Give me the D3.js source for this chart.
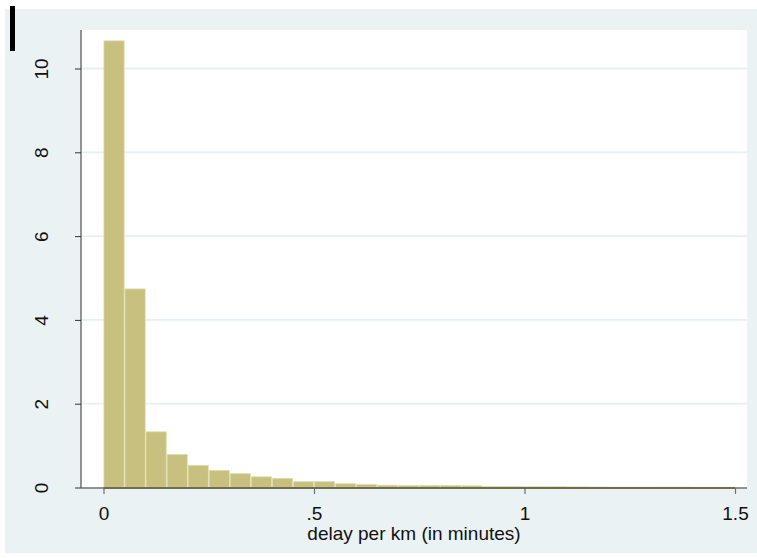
<!DOCTYPE html>
<html>
<head>
<meta charset="utf-8">
<script src="https://cdn.jsdelivr.net/npm/d3@7"></script>
<style>
  body { margin: 0; background: #fff; }
  text { font-family: "Liberation Sans", Arial, sans-serif; fill: #111; }
</style>
</head>
<body>
<div id="chart-area"></div>
<script>
// histogram bins: width .05 starting at 0, density values
const binStarts = d3.range(30).map(i => +(i * 0.05).toFixed(2));
const density = [10.66, 4.74, 1.33, 0.79, 0.53, 0.41, 0.33, 0.255, 0.22, 0.14,
                 0.14, 0.09, 0.075, 0.055, 0.05, 0.05, 0.05, 0.04, 0.025, 0.025,
                 0.02, 0.02, 0.015, 0.012, 0.01, 0.01, 0.008, 0.008, 0.006, 0.006];
const binWidth = 0.05;
const yTicks = [0, 2, 4, 6, 8, 10];
const xTicks = [0, 0.5, 1, 1.5];
const xTickLabels = ["0", ".5", "1", "1.5"];
const xTitle = "delay per km (in minutes)";

let width = 757, height = 558;
let plot = { left: 81, right: 747, top: 30, bottom: 488 };
let fontSize = 19;

let svg = d3.select("#chart-area")
  .append("svg")
    .attr("width", width)
    .attr("height", height)

// outer background
svg.append("rect")
  .attr("x", 5).attr("y", 9)
  .attr("width", 752).attr("height", 544)
  .attr("fill", "#eaf2f3")

// stray black mark top-left
svg.append("rect")
  .attr("x", 10).attr("y", 6)
  .attr("width", 5).attr("height", 45)
  .attr("fill", "#000")

// plot region
svg.append("rect")
  .attr("x", plot.left).attr("y", plot.top)
  .attr("width", plot.right - plot.left).attr("height", plot.bottom - plot.top)
  .attr("fill", "#fff")

let x = d3.scaleLinear()
  .domain([0, 1.5])
  .range([103.5, 735])

let y = d3.scaleLinear()
  .domain([0, 10])
  .range([487.5, 68.5])

// gridlines
svg.append("g")
  .selectAll("line")
  .data(yTicks.filter(t => t > 0))
  .enter()
  .append("line")
    .attr("x1", plot.left).attr("x2", plot.right)
    .attr("y1", d => y(d)).attr("y2", d => y(d))
    .attr("stroke", "#e6eff1")
    .attr("stroke-width", 1.8)

// bars
svg.append("g")
  .selectAll("rect")
  .data(binStarts)
  .enter()
  .append("rect")
    .attr("x", (d) => x(d) + 0.4)
    .attr("y", (d, i) => y(density[i]))
    .attr("width", x(binWidth) - x(0) - 0.8)
    .attr("height", (d, i) => y(0) - y(density[i]))
    .attr("fill", "#c8c07f")
    .attr("stroke", "#e2ddb0")
    .attr("stroke-width", 0.8)

// y axis
let yAxis = d3.axisLeft(y)
  .tickValues(yTicks)
  .tickSize(6)
  .tickFormat(d3.format("d"))
let yg = svg.append("g")
  .attr("transform", `translate(${plot.left}, 0)`)
  .call(yAxis)
yg.select(".domain")
  .attr("d", `M0,${plot.top}V${plot.bottom}`)
  .attr("stroke", "#707070")
  .attr("stroke-width", 1.5)
yg.selectAll(".tick line").attr("stroke", "#333").attr("stroke-width", 1)
yg.selectAll(".tick text")
  .attr("font-size", fontSize)
  .attr("font-family", "Liberation Sans, Arial, sans-serif")
  .attr("fill", "#111")
  .attr("text-anchor", "middle")
  .attr("x", 0)
  .attr("y", 0)
  .attr("dy", 0)
  .attr("transform", "translate(-33, 0) rotate(-90)")

// x axis
let xAxis = d3.axisBottom(x)
  .tickValues(xTicks)
  .tickSize(6)
  .tickFormat((d, i) => xTickLabels[i])
let xg = svg.append("g")
  .attr("transform", `translate(0, ${plot.bottom})`)
  .call(xAxis)
xg.select(".domain")
  .attr("d", `M${plot.left},0H${plot.right}`)
  .attr("stroke", "#707070")
  .attr("stroke-width", 1.5)
xg.selectAll(".tick line").attr("stroke", "#707070").attr("stroke-width", 1.2)
xg.selectAll(".tick text")
  .attr("font-size", fontSize)
  .attr("font-family", "Liberation Sans, Arial, sans-serif")
  .attr("fill", "#111")
  .attr("y", 19)
  .attr("dy", "0.71em")

// olive baseline under the bars
svg.append("line")
  .attr("x1", x(0)).attr("x2", x(1.5))
  .attr("y1", plot.bottom).attr("y2", plot.bottom)
  .attr("stroke", "#67623f")
  .attr("stroke-width", 1.5)

// x title
svg.append("text")
  .attr("x", 414)
  .attr("y", 540)
  .attr("font-size", fontSize)
  .attr("text-anchor", "middle")
  .text(xTitle)
</script>
</body>
</html>
